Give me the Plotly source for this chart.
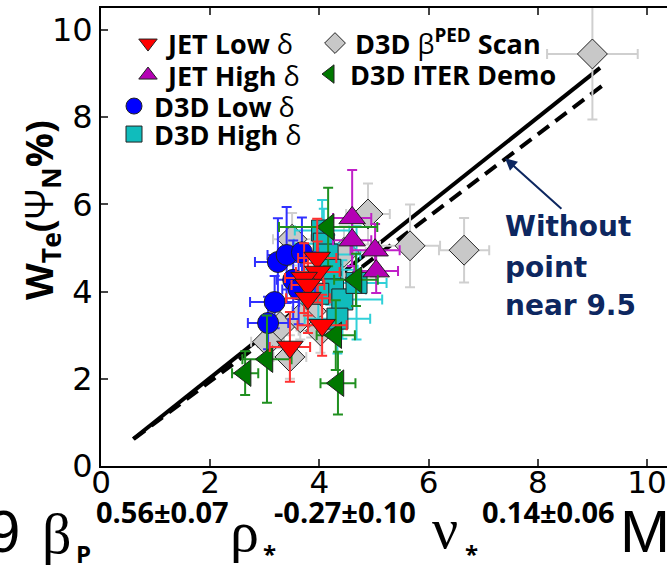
import plotly.graph_objects as go

# ---------------- data ----------------
jet_low_x = [3.96, 3.97, 3.72, 3.79, 3.79, 4.05, 3.46]
jet_low_y = [4.77, 4.45, 4.31, 4.15, 3.85, 3.23, 2.73]
jet_low_xe = [0.35, 0.40, 0.35, 0.30, 0.40, 0.45, 0.37]
jet_low_ye = [0.90, 0.70, 0.80, 0.70, 0.80, 0.70, 0.80]

jet_high_x = [4.60, 4.60, 5.02, 5.04]
jet_high_y = [5.69, 5.18, 4.95, 4.47]
jet_high_xe = [0.35, 0.35, 0.45, 0.40]
jet_high_ye = [1.10, 0.60, 0.60, 0.50]

d3d_low_x = [3.24, 3.40, 3.68, 3.52, 3.18, 3.06, 3.62]
d3d_low_y = [4.68, 4.84, 4.90, 4.27, 3.76, 3.28, 4.05]
d3d_low_xe = [0.42, 0.35, 0.30, 0.30, 0.45, 0.37, 0.30]
d3d_low_ye = [1.00, 1.10, 0.80, 0.90, 0.60, 0.60, 0.80]

d3d_high_x = [4.05, 4.08, 4.15, 4.20, 4.25, 4.42, 4.68, 4.33, 3.98]
d3d_high_y = [5.40, 5.10, 4.85, 4.50, 4.05, 3.82, 4.20, 3.38, 3.95]
d3d_high_xe = [0.50, 0.55, 0.60, 0.50, 0.60, 0.73, 0.55, 0.60, 0.50]
d3d_high_ye = [0.70, 0.80, 0.60, 0.80, 0.70, 0.90, 1.30, 0.80, 0.70]

ped_x = [9.00, 5.66, 6.65, 4.89, 3.50, 4.45, 3.85, 4.02, 3.46, 3.28, 3.05, 3.65]
ped_y = [9.45, 5.05, 4.95, 5.78, 5.20, 4.90, 3.55, 3.10, 2.50, 3.20, 2.85, 3.40]
ped_xe = [0.83, 0.55, 0.46, 0.40, 0.35, 0.40, 0.35, 0.40, 0.30, 0.30, 0.30, 0.35]
ped_ye = [1.50, 0.95, 0.74, 0.70, 0.60, 0.60, 0.60, 0.50, 0.50, 0.50, 0.50, 0.50]

iter_x = [4.16, 4.67, 4.30, 3.04, 2.64, 4.34]
iter_y = [5.48, 4.27, 3.00, 2.45, 2.13, 1.90]
iter_xe = [0.90, 0.40, 0.35, 0.45, 0.24, 0.32]
iter_ye = [0.90, 0.60, 0.80, 1.00, 0.50, 0.72]

fit_all_x = [0.59, 9.14]
fit_all_y = [0.62, 9.13]
fit_wo_x = [0.60, 9.20]
fit_wo_y = [0.62, 8.74]

x_ticks = [0, 2, 4, 6, 8, 10]
y_ticks = [0, 2, 4, 6, 8, 10]

# ---------------- layout helpers ----------------
W, H = 667, 565
L, R, T, B = 101, 0, 8, 99
PW, PH = W - L - R, H - T - B


def px(x):
    return (x - L) / PW


def py(y):
    return (H - B - y) / PH


fig = go.Figure()

fig.add_trace(go.Scatter(x=fit_all_x, y=fit_all_y, mode="lines",
                         line=dict(color="black", width=4), showlegend=False))
fig.add_trace(go.Scatter(x=fit_wo_x, y=fit_wo_y, mode="lines",
                         line=dict(color="black", width=4, dash="14px,8px"),
                         showlegend=False))


def series(name, x, y, xe, ye, symbol, color, ecolor, size, legend):
    fig.add_trace(go.Scatter(
        x=x, y=y, mode="markers", name=name, legend=legend,
        marker=dict(symbol=symbol, color=color, size=size,
                    line=dict(color="#222222", width=1)),
        error_x=dict(type="data", array=xe, color=ecolor, thickness=2, width=5),
        error_y=dict(type="data", array=ye, color=ecolor, thickness=2, width=5),
    ))


series("<b>D3D</b> β<sup><b>PED</b></sup> <b>Scan</b>", ped_x, ped_y, ped_xe, ped_ye,
       "diamond", "#c8c8c8", "#cfcfcf", 23, "legend5")
series("<b>D3D High</b> δ", d3d_high_x, d3d_high_y, d3d_high_xe, d3d_high_ye,
       "square", "#10bcbc", "#30d0d8", 21, "legend4")
series("<b>D3D Low</b> δ", d3d_low_x, d3d_low_y, d3d_low_xe, d3d_low_ye,
       "circle", "#0000ff", "#3030ff", 21, "legend3")
series("<b>JET High</b> δ", jet_high_x, jet_high_y, jet_high_xe, jet_high_ye,
       "triangle-up", "#b400b4", "#c020c8", 23, "legend2")
series("<b>D3D ITER Demo</b>", iter_x, iter_y, iter_xe, iter_ye,
       "triangle-left", "#007800", "#209020", 23, "legend6")
series("<b>JET Low</b> δ", jet_low_x, jet_low_y, jet_low_xe, jet_low_ye,
       "triangle-down", "#ff0000", "#ff3030", 23, "legend")

annotations = []

# y-axis title
annotations.append(dict(
    text="<b>W<sub>Te</sub>(</b>Ψ<sub><b>N</b></sub><b>%)</b>",
    xref="paper", yref="paper", x=px(40), y=py(210), xanchor="center", yanchor="middle",
    textangle=-90, showarrow=False, font=dict(family="Open Sans", size=38, color="black")))

# x-axis title in pieces
big = dict(family="Liberation Serif", size=58, color="black")
mfont = dict(family="Liberation Sans", size=60, color="black")
supf = dict(family="Open Sans", size=29, color="black", weight="bold")
subf = dict(family="Open Sans", size=24, color="black", weight="bold")
pieces = [
    ("9", 22, 531, "right", mfont),
    ("β", 40, 533, "left", big),
    ("P", 74, 553, "left", subf),
    ("0.56±0.07", 94, 512, "left", supf),
    ("ρ", 228, 531, "left", big),
    ("*", 261, 553, "left", subf),
    ("-0.27±0.10", 272, 512, "left", supf),
    ("ν", 430, 528, "left", big),
    ("*", 463, 553, "left", subf),
    ("0.14±0.06", 480, 512, "left", supf),
    ("M", 618, 531, "left", mfont),
]
for t, xx, yy, anc, f in pieces:
    annotations.append(dict(text=t, xref="paper", yref="paper", x=px(xx), y=py(yy),
                            xanchor=anc, yanchor="middle", showarrow=False, font=f))

# annotation text + arrow
note_font = dict(family="DejaVu Sans", size=28, color="#0d2760", weight="bold")
for t, yy in [("Without", 226), ("point", 267), ("near 9.5", 305)]:
    annotations.append(dict(text=t, xref="paper", yref="paper", x=px(503), y=py(yy),
                            xanchor="left", yanchor="middle", showarrow=False,
                            font=note_font))
annotations.append(dict(
    text="", x=7.40, y=7.06, xref="x", yref="y", ax=8.46, ay=5.87, axref="x", ayref="y",
    showarrow=True, arrowhead=2, arrowsize=1.2, arrowwidth=2, arrowcolor="#0d2760"))

leg_font = dict(family="Open Sans", size=27, color="black")


def leg(xpix, ycenter):
    return dict(x=px(xpix), y=py(ycenter - 23), xanchor="left", yanchor="top",
                bgcolor="rgba(0,0,0,0)", font=leg_font)


fig.update_layout(
    width=W, height=H,
    margin=dict(l=L, r=R, t=T, b=B, pad=0),
    plot_bgcolor="white", paper_bgcolor="white",
    annotations=annotations,
    legend=leg(128, 42),
    legend2=leg(128, 74),
    legend3=leg(114, 105),
    legend4=leg(114, 133),
    legend5=leg(315, 42),
    legend6=leg(310, 73),
    xaxis=dict(range=[0, PW / 54.6], tickvals=x_ticks, ticks="inside", ticklen=7,
               tickwidth=1.5, tickcolor="#444", showline=True, linewidth=2,
               linecolor="black", mirror="ticks", showgrid=False, zeroline=False,
               ticklabelstandoff=-12, ticklabeloverflow="allow",
               tickfont=dict(family="DejaVu Sans", size=31, color="black")),
    yaxis=dict(range=[0, PH / 43.6], tickvals=y_ticks, ticks="inside", ticklen=7,
               tickwidth=1.5, tickcolor="#444", showline=True, linewidth=2,
               linecolor="black", mirror=False, showgrid=False, zeroline=False,
               tickfont=dict(family="DejaVu Sans", size=32, color="black")),
)

fig.write_html("out.html")
